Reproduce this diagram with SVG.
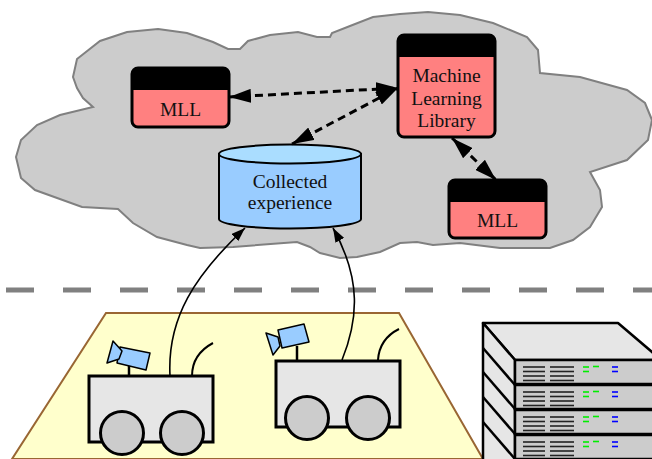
<svg xmlns="http://www.w3.org/2000/svg" width="652" height="459" viewBox="0 0 652 459">
  <style>
    .lbl { font-family: "Liberation Serif", "Times New Roman", serif; font-size: 19.5px; fill: #111; text-anchor: middle; }
    .box { fill: #ff8080; stroke: #000; stroke-width: 3; }
    .hdr { fill: #000; }
    .dash { fill: none; stroke: #000; stroke-width: 3; stroke-dasharray: 8 5; marker-start: url(#bigHead); marker-end: url(#bigHead); }
    .feed { fill: none; stroke: #000; stroke-width: 1.6; marker-end: url(#smallHead); }
    .chassis { fill: #e6e6e6; stroke: #000; stroke-width: 3; }
    .wheel { fill: #cccccc; stroke: #000; stroke-width: 3; }
    .cam { fill: #99ccff; stroke: #000; stroke-width: 1.5; stroke-linejoin: round; }
    .cable { fill: none; stroke: #000; stroke-width: 2; }
    .face { fill: #e6e6e6; stroke: #000; stroke-width: 2.5; stroke-linejoin: round; }
    .panel { fill: #cccccc; stroke: #000; stroke-width: 2.5; }
    .vent { stroke: #222; stroke-width: 1.6; }
    .ledG { stroke: #00ee00; stroke-width: 1.6; }
    .ledB { stroke: #0000ff; stroke-width: 1.6; }
  </style>
  <defs>
    <marker id="bigHead" viewBox="0 0 22 14" refX="22" refY="7" markerWidth="22" markerHeight="14" markerUnits="userSpaceOnUse" orient="auto-start-reverse">
      <path d="M0,0 L22,7 L0,14 z" fill="#000"/>
    </marker>
    <marker id="smallHead" viewBox="0 0 14 10" refX="14" refY="5" markerWidth="14" markerHeight="10" markerUnits="userSpaceOnUse" orient="auto">
      <path d="M0,0 L14,5 L0,10 z" fill="#000"/>
    </marker>
    <g id="rackPanel">
      <rect class="panel" x="515" y="0" width="150" height="24"/>
      <g class="vent">
        <line x1="523" y1="7" x2="545" y2="7"/><line x1="523" y1="11.5" x2="545" y2="11.5"/>
        <line x1="523" y1="16" x2="545" y2="16"/><line x1="523" y1="20.5" x2="545" y2="20.5"/>
        <line x1="550" y1="7" x2="574" y2="7"/><line x1="550" y1="11.5" x2="574" y2="11.5"/>
        <line x1="550" y1="16" x2="574" y2="16"/><line x1="550" y1="20.5" x2="574" y2="20.5"/>
      </g>
      <g class="ledG">
        <line x1="583" y1="7" x2="589" y2="7"/><line x1="593" y1="6.5" x2="599" y2="6.5"/>
        <line x1="583" y1="11.5" x2="589" y2="11.5"/>
      </g>
      <g class="ledB">
        <line x1="612" y1="7" x2="618" y2="7"/><line x1="612" y1="11.5" x2="618" y2="11.5"/>
      </g>
    </g>
  </defs>

  <!-- cloud -->
  <path id="cloud" d="M158,29 L187,33 L213,42 L228,49 L240,49 L248,41 L270,35 L298,32 L317,37 L330,37 L332,33 L350,26 L373,17 L400,14 L428,12 L460,15 L493,23 L527,37 L538,50 L540,73 L580,77 L627,90 L645,103 L652,120 L648,140 L627,160 L590,172 L600,190 L602,207 L590,227 L573,240 L550,248 L500,248 L460,243 L433,245 L417,242 L400,243 L380,252 L357,257 L340,258 L320,253 L310,247 L297,242 L233,247 L200,248 L187,245 L157,237 L133,223 L118,209 L82,207 L35,190 L21,178 L16,157 L21,140 L37,125 L60,115 L93,107 L83,98 L77,88 L73,77 L77,59 L100,41 L127,32 Z" fill="#cccccc" stroke="#808080" stroke-width="2"/>

  <!-- separator -->
  <line x1="6" y1="290" x2="652" y2="290" stroke="#808080" stroke-width="5" stroke-dasharray="28 29"/>

  <!-- floor -->
  <path id="floor" d="M106,313 L399,313 L483,459 L12,459 Z" fill="#ffffcc" stroke="#996633" stroke-width="2"/>

  <!-- nodes -->
  <g id="mll-left">
    <rect class="box" x="132" y="68" width="97" height="59" rx="6"/>
    <path class="hdr" d="M132,90 V74 Q132,68 138,68 H223 Q229,68 229,74 V90 Z"/>
    <text class="lbl" x="180.5" y="116">MLL</text>
  </g>
  <g id="ml-library">
    <rect class="box" x="398" y="35" width="97" height="102" rx="6"/>
    <path class="hdr" d="M398,57 V41 Q398,35 404,35 H489 Q495,35 495,41 V57 Z"/>
    <text class="lbl" x="446.5" y="82">Machine</text>
    <text class="lbl" x="446.5" y="104.5">Learning</text>
    <text class="lbl" x="446.5" y="127">Library</text>
  </g>
  <g id="mll-right">
    <rect class="box" x="449" y="180" width="97" height="58" rx="6"/>
    <path class="hdr" d="M449,202 V186 Q449,180 455,180 H540 Q546,180 546,186 V202 Z"/>
    <text class="lbl" x="497.5" y="227">MLL</text>
  </g>
  <g id="experience">
    <path d="M219,154 V219 A71,9.5 0 0 0 361,219 V154 Z" fill="#99ccff" stroke="#000" stroke-width="2"/>
    <ellipse cx="290" cy="154" rx="71" ry="9.5" fill="#aaddff" stroke="#000" stroke-width="2"/>
    <text class="lbl" x="290" y="188">Collected</text>
    <text class="lbl" x="290" y="208.5">experience</text>
  </g>

  <!-- robots -->
  <g id="robot-1">
    <line x1="129" y1="376" x2="129" y2="365" stroke="#000" stroke-width="2.5"/>
    <polygon class="cam" points="120,347 150,353 146,370 117,363"/>
    <polygon class="cam" points="113,341 122,351 119,359 107,363"/>
    <path class="cable" d="M192,376 C192,360 200,350 213,343"/>
    <rect class="chassis" x="89" y="376" width="124" height="66"/>
    <circle class="wheel" cx="122" cy="433" r="21.5"/>
    <circle class="wheel" cx="182" cy="433" r="21.5"/>
  </g>
  <g id="robot-2">
    <line x1="297" y1="361" x2="297" y2="346" stroke="#000" stroke-width="2.5"/>
    <polygon class="cam" points="278,330 304,324 309,342 282,348"/>
    <polygon class="cam" points="266,333 278,337 280,346 273,355"/>
    <path class="cable" d="M378,360 C379,345 387,335 399,329"/>
    <rect class="chassis" x="276" y="361" width="124" height="66"/>
    <circle class="wheel" cx="307" cy="418" r="21.5"/>
    <circle class="wheel" cx="368" cy="418" r="21.5"/>
  </g>

  <!-- server rack -->
  <g id="server">
    <path class="face" d="M483,323 L618,323 L652,352 L660,360 L515,360 Z"/>
    <path class="face" d="M483,323 L515,360 L515,470 L483,470 Z"/>
    <g stroke="#000" stroke-width="2.5" fill="none">
      <line x1="483" y1="348" x2="515" y2="385"/>
      <line x1="483" y1="372" x2="515" y2="409"/>
      <line x1="483" y1="397" x2="515" y2="434"/>
      <line x1="483" y1="422" x2="515" y2="459"/>
    </g>
    <use href="#rackPanel" transform="translate(0,360)"/>
    <use href="#rackPanel" transform="translate(0,385)"/>
    <use href="#rackPanel" transform="translate(0,410)"/>
    <use href="#rackPanel" transform="translate(0,435)"/>
  </g>

  <!-- connectors -->
  <g id="connectors">
    <line class="dash" x1="229" y1="97" x2="398" y2="88"/>
    <line class="dash" x1="292" y1="144" x2="398" y2="88"/>
    <line class="dash" x1="452" y1="138" x2="496" y2="180"/>
    <path class="feed" d="M170,376 C167,318 195,275 245,228"/>
    <path class="feed" d="M342,360 C358,320 362,280 333,228"/>
  </g>
</svg>
